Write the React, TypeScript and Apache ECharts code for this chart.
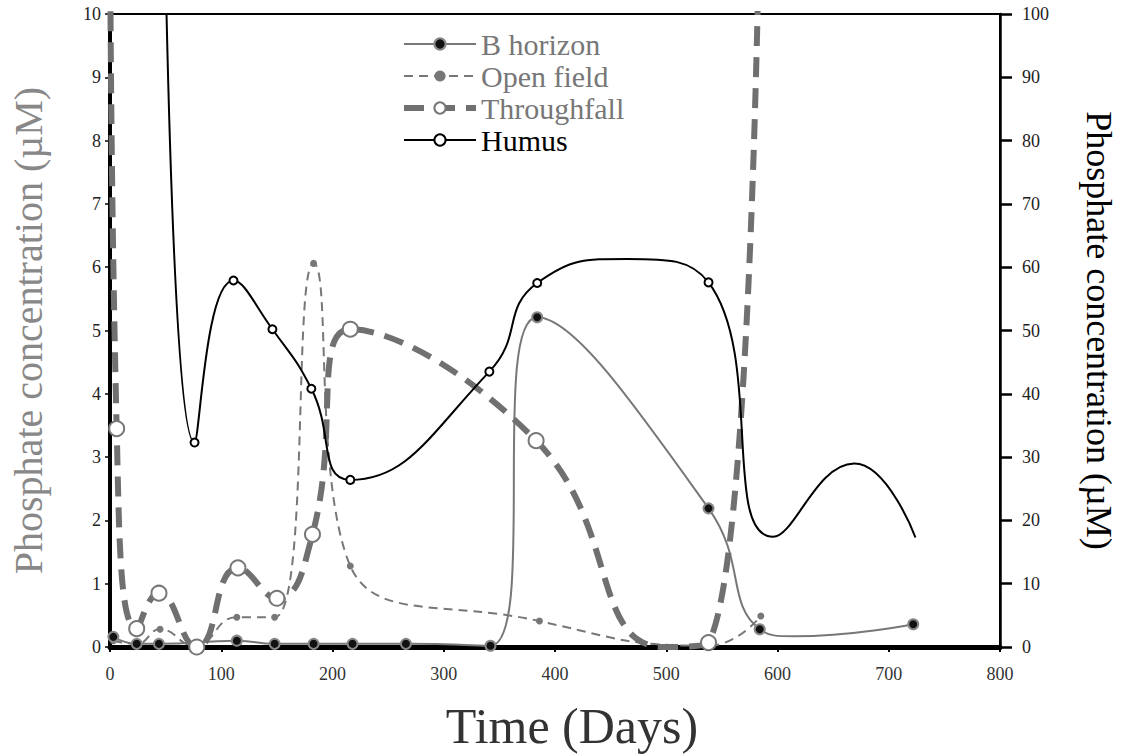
import React, { useEffect, useRef } from "react";
import * as echarts from "echarts";

// ---- data (days, concentration) ----
// unmarked entries are points read off a curve where no marker is drawn
const bHorizonDays = [3, 24, 44, 114, 148, 183, 218, 266, 342, 384, 538, 584, 615, 722];
const bHorizonValues = [0.16, 0.05, 0.05, 0.1, 0.05, 0.05, 0.05, 0.05, 0.02, 5.21, 2.19, 0.28, 0.17, 0.36];
const bHorizonMarked = [true, true, true, true, true, true, true, true, true, true, true, true, false, true];

const openFieldDays = [3, 24, 45, 76, 114, 148, 183, 216, 386, 538, 585];
const openFieldValues = [0.1, 0.05, 0.28, 0.02, 0.47, 0.47, 6.06, 1.28, 0.41, 0.02, 0.49];

const throughfallDays = [0, 6, 24, 44, 78, 115, 150, 182, 216, 383, 498, 538, 585];
const throughfallValues = [12, 3.45, 0.29, 0.85, 0.0, 1.25, 0.77, 1.78, 5.02, 3.26, 0.0, 0.07, 13];
const throughfallMarked = [false, true, true, true, true, true, true, true, true, true, false, true, false];

// Humus is read on the right-hand axis (0-100 µM)
const humusDays = [44, 76, 111, 146, 181, 216, 341, 384, 465, 538, 596, 669, 724];
const humusValues = [195, 32.3, 57.9, 50.2, 40.8, 26.4, 43.5, 57.5, 61.3, 57.6, 17.4, 29, 17.3];
const humusMarked = [false, true, true, true, true, true, true, true, false, true, false, false, false];

const seriesNames = ["B horizon", "Open field", "Throughfall", "Humus"];

const FONT = "'Liberation Serif', 'Times New Roman', serif";

const build = (xs: number[], ys: number[], marked: boolean[] | null, sym: string) =>
  xs.map((x, i) => ({ value: [x, ys[i]], symbol: !marked || marked[i] ? sym : "none" }));

export default function App() {
  const ref = useRef<HTMLDivElement>(null);

  useEffect(() => {
    if (!ref.current) return;
    const chart = echarts.init(ref.current, null, { renderer: "svg" });

    const option: any = {
      animation: false,
      backgroundColor: "#fff",
      grid: {
        left: 110,
        right: 123,
        top: 14,
        bottom: 101,
        show: true,
        borderColor: "#000",
        borderWidth: 2,
        backgroundColor: "transparent",
      },
      legend: {
        orient: "vertical",
        left: 396,
        top: 24,
        itemWidth: 72,
        itemHeight: 14,
        itemGap: 2,
        textStyle: { fontFamily: FONT, fontSize: 30, color: "#777" },
        data: [
          { name: seriesNames[0], textStyle: { color: "#777" } },
          { name: seriesNames[1], textStyle: { color: "#777" } },
          { name: seriesNames[2], textStyle: { color: "#777" }, lineStyle: { width: 6 } },
          { name: seriesNames[3], textStyle: { color: "#000" } },
        ],
      },
      xAxis: {
        type: "value",
        min: 0,
        max: 800,
        interval: 100,
        name: "Time (Days)",
        nameLocation: "middle",
        nameGap: 54,
        nameTextStyle: { fontFamily: FONT, fontSize: 50, color: "#333", padding: [0, 0, 0, 34] },
        axisLine: { show: true, lineStyle: { color: "#000", width: 5 } },
        axisTick: { show: true, length: 5, lineStyle: { color: "#000", width: 2 } },
        axisLabel: { margin: 18, fontFamily: FONT, fontSize: 18, color: "#333" },
        splitLine: { show: false },
      },
      yAxis: [
        {
          type: "value",
          position: "left",
          min: 0,
          max: 10,
          interval: 1,
          name: "Phosphate concentration (µM)",
          nameLocation: "middle",
          nameGap: 62,
          nameRotate: 90,
          nameTextStyle: { fontFamily: FONT, fontSize: 40, color: "#888" },
          axisLine: { show: true, lineStyle: { color: "#000", width: 4 } },
          axisTick: { show: true, length: 5, lineStyle: { color: "#000", width: 1.5 } },
          axisLabel: { margin: 9, fontFamily: FONT, fontSize: 18, color: "#222" },
          splitLine: { show: false },
        },
        {
          type: "value",
          position: "right",
          min: 0,
          max: 100,
          interval: 10,
          name: "Phosphate concentration (µM)",
          nameLocation: "middle",
          nameGap: 81,
          nameRotate: -90,
          nameTextStyle: { fontFamily: FONT, fontSize: 36, color: "#000" },
          axisLine: { show: true, lineStyle: { color: "#000", width: 2.5 } },
          axisTick: { show: true, length: 12, lineStyle: { color: "#000", width: 2.5 } },
          axisLabel: { margin: 22, fontFamily: FONT, fontSize: 18, color: "#222" },
          splitLine: { show: false },
        },
      ],
      series: [
        {
          name: seriesNames[0],
          type: "line",
          yAxisIndex: 0,
          smooth: 0.5,
          clip: true,
          data: build(bHorizonDays, bHorizonValues, bHorizonMarked, "circle"),
          symbol: "circle",
          symbolSize: 10,
          lineStyle: { color: "#777", width: 2 },
          itemStyle: { color: "#111", borderColor: "#888", borderWidth: 2 },
          z: 3,
        },
        {
          name: seriesNames[1],
          type: "line",
          yAxisIndex: 0,
          smooth: 0.5,
          clip: true,
          data: build(openFieldDays, openFieldValues, null, "circle"),
          symbol: "circle",
          symbolSize: 7,
          lineStyle: { color: "#777", width: 2, type: [9, 6] },
          itemStyle: { color: "#777" },
          z: 2,
        },
        {
          name: seriesNames[2],
          type: "line",
          yAxisIndex: 0,
          smooth: 0.5,
          clip: true,
          data: build(throughfallDays, throughfallValues, throughfallMarked, "emptyCircle"),
          symbol: "emptyCircle",
          symbolSize: 15,
          lineStyle: { color: "#707070", width: 6, type: [20, 11] },
          itemStyle: { color: "#777", borderColor: "#777", borderWidth: 2.5 },
          z: 4,
        },
        {
          name: seriesNames[3],
          type: "line",
          yAxisIndex: 1,
          smooth: 0.5,
          clip: true,
          data: build(humusDays, humusValues, humusMarked, "emptyCircle"),
          symbol: "emptyCircle",
          symbolSize: 8,
          lineStyle: { color: "#000", width: 2 },
          itemStyle: { color: "#000", borderColor: "#000", borderWidth: 1.5 },
          z: 5,
        },
      ],
    };

    chart.setOption(option);
    return () => chart.dispose();
  }, []);

  return (
    <div
      ref={ref}
      style={{ position: "fixed", left: 0, top: 0, width: 1125, height: 756 }}
    />
  );
}
